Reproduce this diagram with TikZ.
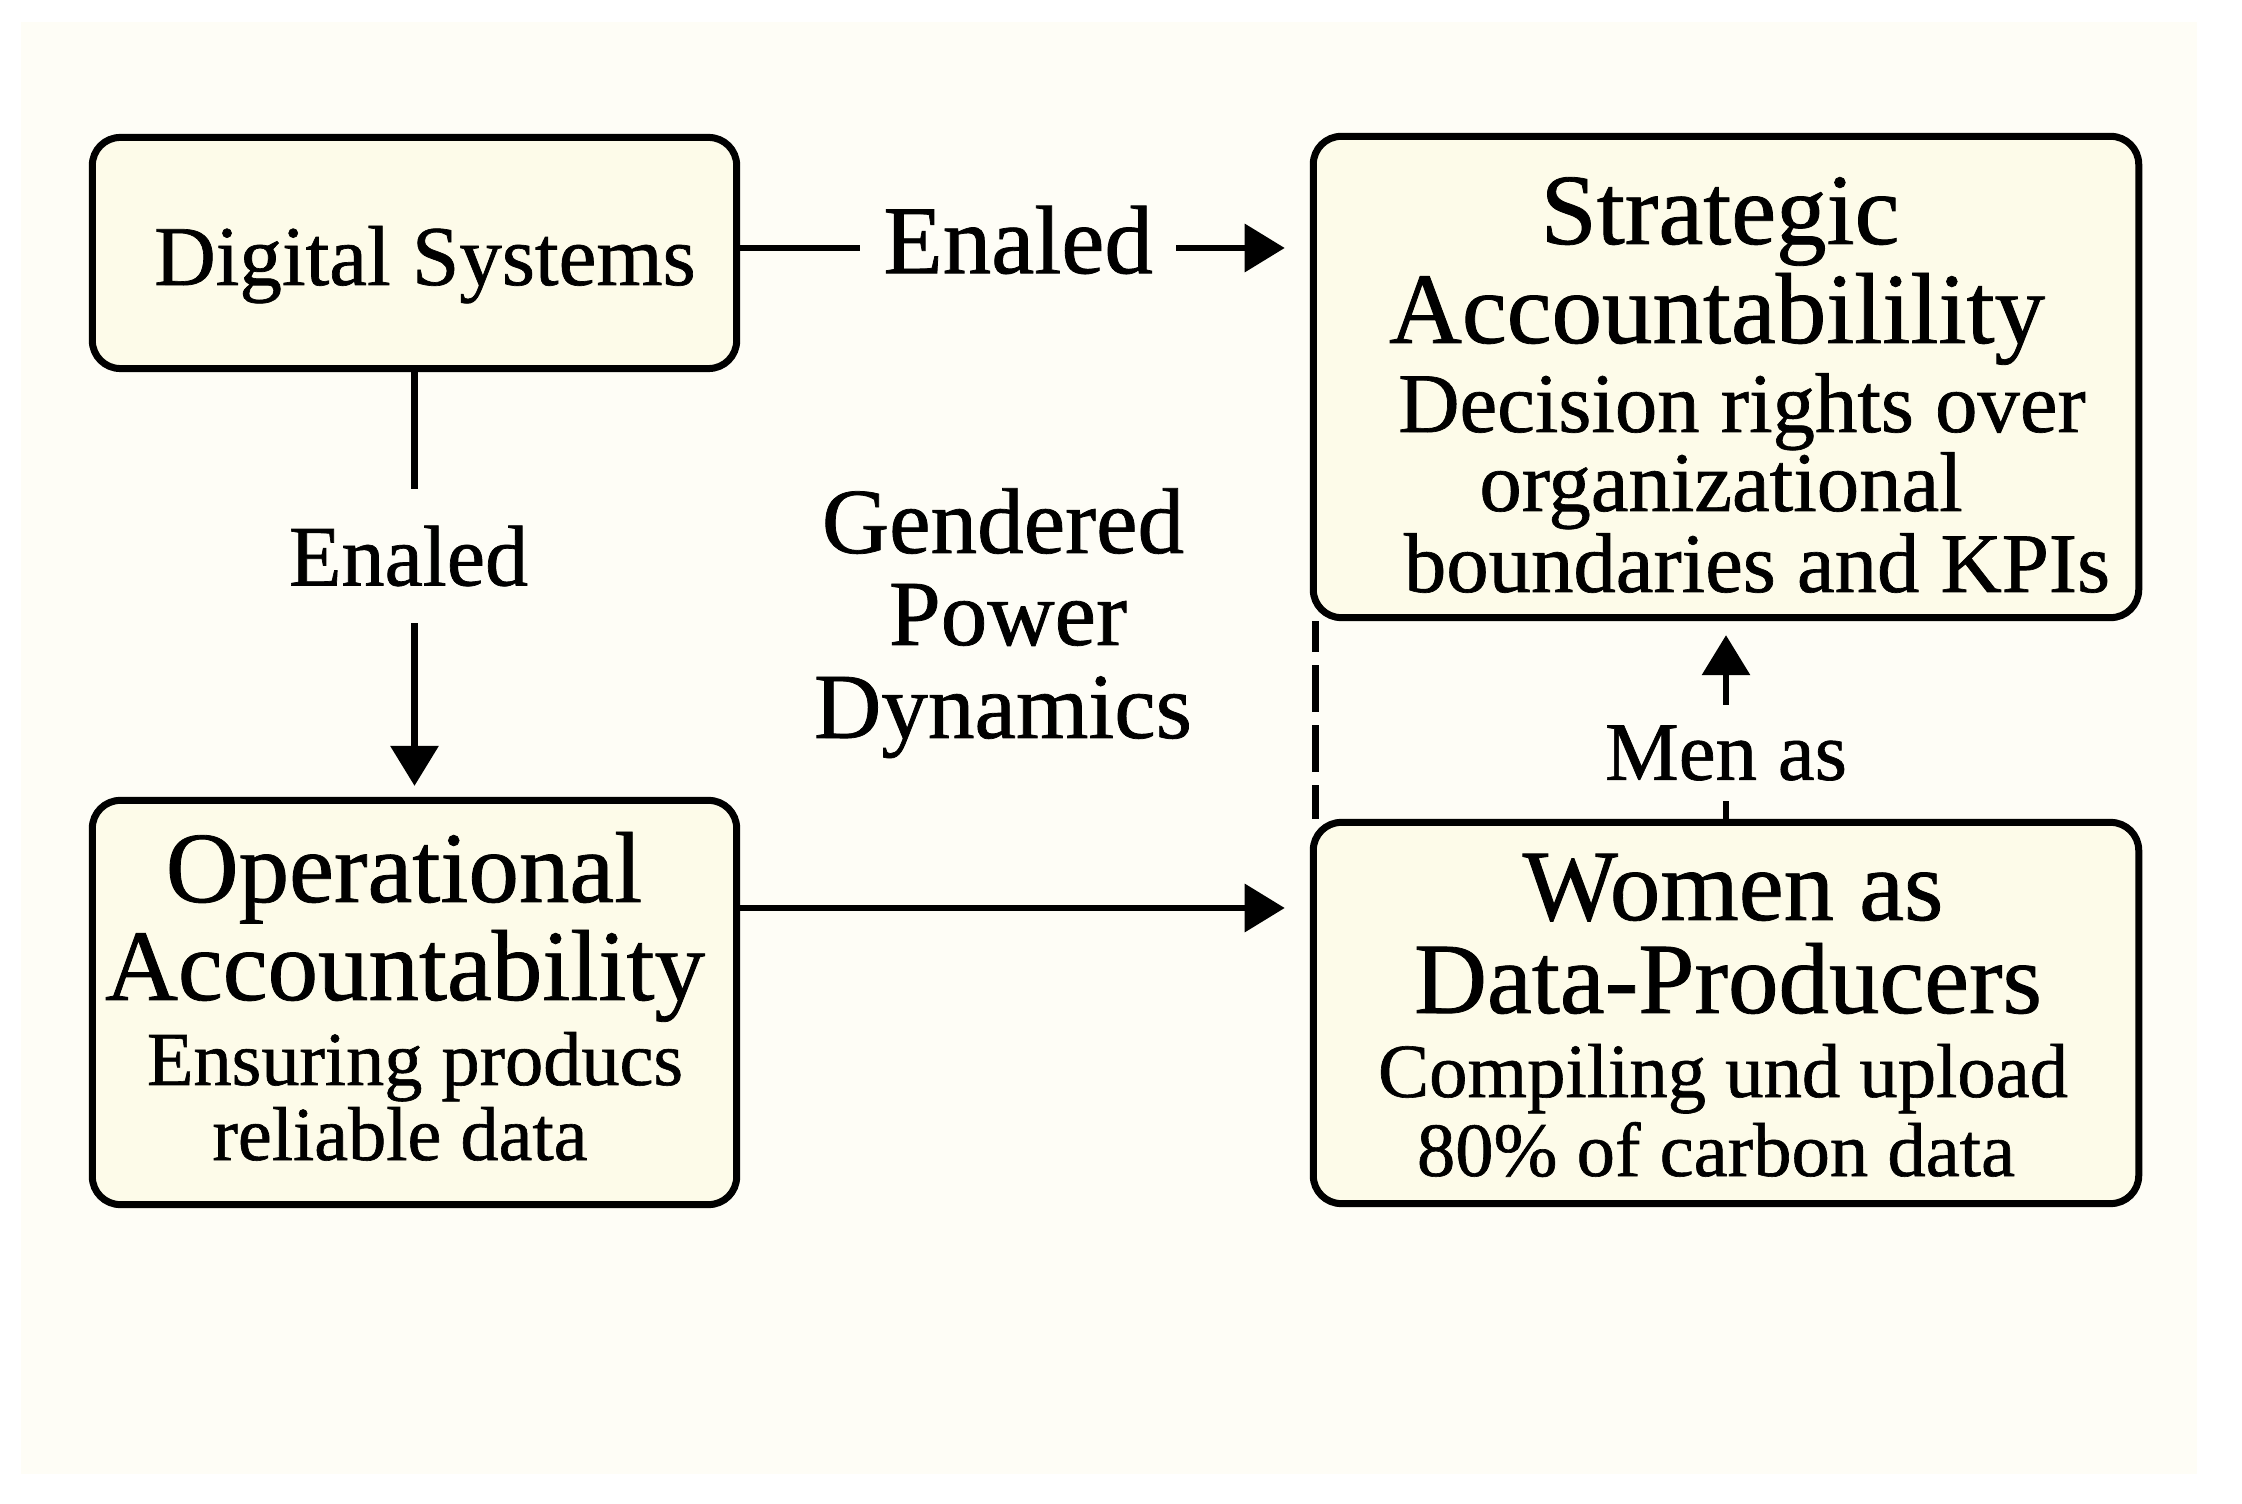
\documentclass[tikz,border=0pt]{standalone}
\usepackage{fontspec}
\setmainfont{Liberation Serif}[FakeBold=0.8]
\usetikzlibrary{arrows.meta}
\definecolor{bgc}{RGB}{254,253,246}
\definecolor{boxc}{RGB}{253,251,233}
\newcommand{\myfs}[1]{\fontsize{#1pt}{#1pt}\selectfont}
\begin{document}
\begin{tikzpicture}[x=0.01cm,y=-0.01cm,
  box/.style={draw=black, line width=0.07cm, rounded corners=0.28cm, fill=boxc, inner sep=0pt},
  conn/.style={line width=0.065cm, draw=black},
  arr/.style={conn, -{Triangle[length=0.40cm,width=0.47cm]}},
  txt/.style={anchor=base, inner sep=0pt, text=black},
  ttl/.style={txt, font=\myfs{28.7}},
  lab/.style={fill=bgc, inner sep=0pt, text=black},
]
\useasboundingbox (0,0) rectangle (2242,1504);
\fill[white] (0,0) rectangle (2242,1504);
\fill[bgc] (21,22) rectangle (2197,1474);

% boxes
\node[box, minimum width=6.44cm, minimum height=2.31cm] (DS) at (414.5,253) {};
\node[box, minimum width=6.44cm, minimum height=4.04cm] (OA) at (414.5,1002.5) {};
\node[box, minimum width=8.25cm, minimum height=4.81cm] (SA) at (1726,377) {};
\node[box, minimum width=8.25cm, minimum height=3.81cm] (WP) at (1726,1013) {};

% box texts
\node[txt, font=\myfs{24.2}] (ds1) at (425,285) {Digital Systems};

\node[ttl] (sa1) at (1720,244) {Strategic};
\node[ttl] (sa2) at (1717,343) {Accountabilility};
\node[txt, font=\myfs{24.1}] (sa3) at (1742,432) {Decision rights over};
\node[txt, font=\myfs{24.1}] (sa4) at (1721,511) {organizational};
\node[txt, font=\myfs{24.1}] (sa5) at (1757,592) {boundaries and KPIs};

\node[ttl] (oa1) at (404,902) {Operational};
\node[ttl] (oa2) at (405,1000) {Accountability};
\node[txt, font=\myfs{21.7}] (oa3) at (415,1085) {Ensuring producs};
\node[txt, font=\myfs{21.7}] (oa4) at (400,1160) {reliable data};

\node[ttl] (wp1) at (1733,920) {Women as};
\node[ttl] (wp2) at (1728,1013) {Data-Producers};
\node[txt, font=\myfs{21.8}] (wp3) at (1723,1097) {Compiling und upload};
\node[txt, font=\myfs{21.8}] (wp4) at (1716,1176) {80\% of carbon data};

% free text
\node[txt, font=\myfs{26.5}] (gp1) at (1003,553) {Gendered};
\node[txt, font=\myfs{26.5}] (gp2) at (1008,645) {Power};
\node[txt, font=\myfs{26.5}] (gp3) at (1003,738) {Dynamics};

% connectors
\coordinate (ty) at (0,248);
\draw[arr, shorten >=0.25cm] (DS.east |- ty) -- node[lab, pos=0.488, yshift=0.08cm, inner xsep=0.235cm, inner ysep=0.05cm, font=\myfs{27.6}] (e1) {Enaled} (ty -| SA.west);

\draw[arr, shorten >=0.11cm] (DS.south) -- node[lab, pos=0.433, xshift=-0.06cm, inner ysep=0.365cm, inner xsep=0.05cm, font=\myfs{24.5}] (e2) {Enaled} (OA.north);

\coordinate (oy) at (0,908);
\draw[arr, shorten >=0.25cm] (OA.east |- oy) -- (oy -| WP.west);

\draw[arr, shorten >=0.14cm] (WP.north) -- node[lab, pos=0.333, inner ysep=0.2cm, inner xsep=0.05cm, font=\myfs{23.6}] (m1) {Men as} (SA.south);

\draw[line width=0.07cm, dash pattern=on 0.47cm off 0.13cm, dash phase=0.16cm] ([xshift=0.06cm]SA.south west) -- ([xshift=0.06cm]WP.north west);
\end{tikzpicture}
\end{document}
